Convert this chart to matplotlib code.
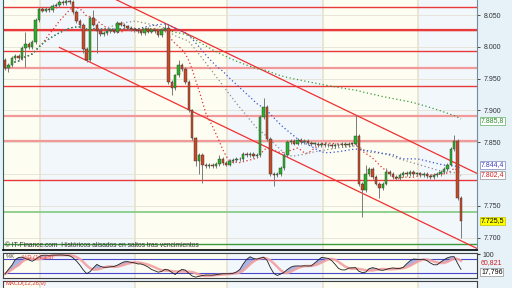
import numpy as np
import pandas as pd
import matplotlib
matplotlib.use('Agg')
import matplotlib.pyplot as plt

plt.rcParams['font.family'] = ['Liberation Sans', 'DejaVu Sans']

# closes of each bar
closes = [7.966, 7.972, 7.982, 7.985, 7.983, 7.998, 8.005, 8.000, 8.008, 8.042,
          8.060, 8.057, 8.060, 8.058, 8.064, 8.066, 8.070, 8.069, 8.072, 8.071,
          8.055, 8.040, 8.035, 7.997, 7.980, 8.045, 8.035, 8.025, 8.020, 8.022,
          8.025, 8.026, 8.024, 8.038, 8.035, 8.032, 8.030, 8.028, 8.027, 8.025,
          8.022, 8.028, 8.024, 8.026, 8.025, 8.019, 8.026, 8.030, 7.945, 7.935,
          7.955, 7.972, 7.965, 7.945, 7.900, 7.856, 7.820, 7.830, 7.815, 7.812,
          7.815, 7.812, 7.816, 7.824, 7.818, 7.815, 7.820, 7.822, 7.824, 7.823,
          7.832, 7.830, 7.831, 7.828, 7.830, 7.890, 7.905, 7.855, 7.800, 7.798,
          7.800, 7.810, 7.830, 7.850, 7.852, 7.848, 7.853, 7.850, 7.852, 7.849,
          7.847, 7.848, 7.846, 7.848, 7.845, 7.846, 7.844, 7.846, 7.845, 7.847,
          7.846, 7.848, 7.847, 7.860, 7.784, 7.775, 7.800, 7.808, 7.795, 7.785,
          7.778, 7.785, 7.803, 7.800, 7.795, 7.793, 7.798, 7.802, 7.800, 7.803,
          7.800, 7.801, 7.799, 7.800, 7.797, 7.795, 7.799, 7.800, 7.803, 7.808,
          7.815, 7.840, 7.852, 7.762, 7.7255]
first_open = 7.979
# longer wicks that stand out
wick_high = {6: 8.023, 18: 8.080, 26: 8.058, 47: 8.037, 48: 8.034, 51: 7.980,
             63: 7.830, 76: 7.920, 103: 7.893, 106: 7.814, 112: 7.810, 132: 7.861}
wick_low = {1: 7.960, 6: 7.968, 22: 8.029, 23: 7.990, 24: 7.976, 27: 7.990,
            49: 7.924, 56: 7.812, 57: 7.800, 58: 7.786, 79: 7.781, 105: 7.732,
            110: 7.762, 134: 7.699}

red_levels = [8.0626, 8.0264, 7.9934, 7.9384, 7.791]
pink_levels = [7.9667, 7.891, 7.852]
green_levels = [7.740, 7.690]
# regression channel (bar, upper, lower)
chan_bars = [16, 138.7]
chan_upper = [8.117, 7.801]
chan_lower = [7.999, 7.683]
ma_windows = [12, 30, 40, 120]
ma_colors = ['#e03030', '#8c8c8c', '#3a55d0', '#3a9a3a']
price_ticks = [7.70, 7.75, 7.85, 7.90, 7.95, 8.00, 8.05]
day_breaks = [10.3, 38.2, 65.2, 93.4, 121.4]

c = np.array(closes)
o = np.concatenate([[first_open], c[:-1]])
n = len(c)
x = np.arange(n)
hi = np.maximum(o, c) + 0.003
lo = np.minimum(o, c) - 0.003
for k, v in wick_high.items():
    hi[k] = v
for k, v in wick_low.items():
    lo[k] = v

s = pd.Series(c)
# stochastic 14,3,5
ll = pd.Series(lo).rolling(14, min_periods=1).min()
hh = pd.Series(hi).rolling(14, min_periods=1).max()
rawk = 100 * (s - ll) / (hh - ll)
stk = rawk.rolling(3, min_periods=1).mean()
std = stk.rolling(5, min_periods=1).mean()
# macd
macd = s.ewm(span=12).mean() - s.ewm(span=26).mean()

W, H = 512, 288
def box(x0, y0, x1, y1):
    return [x0 / W, 1 - y1 / H, (x1 - x0) / W, (y1 - y0) / H]

fig = plt.figure(figsize=(5.12, 2.88), dpi=100, facecolor='#e6f1f8')
ax = fig.add_axes(box(3, 0, 477, 250))
ax_st = fig.add_axes(box(3, 253, 477, 278))
ax_md = fig.add_axes(box(3, 281, 477, 300))

xl = (-0.59, 138.7)
for a in (ax, ax_st, ax_md):
    a.set_facecolor('#fdfdf1')
    bands = [xl[0]] + day_breaks + [xl[1]]
    for i in range(len(bands) - 1):
        if i % 2 == 1:
            a.axvspan(bands[i], bands[i + 1], color='#f2f7fc', lw=0, zorder=0)
    for b in day_breaks:
        a.axvline(b, color='#e6e2cf', lw=1.2, zorder=0.5)
    a.set_xlim(*xl)
    a.set_xticks([])
    for sp in a.spines.values():
        sp.set_color('#404040')
        sp.set_linewidth(0.8)

# main panel
ax.set_ylim(7.6806, 8.0736)
for t in np.arange(7.70, 8.06, 0.05):
    ax.axhline(t, color='#e4e2d4', lw=0.6, zorder=0.6)
for lv in red_levels:
    ax.axhline(lv, color='#e83a3a', lw=1.0, zorder=1)
ax.axhline(red_levels[1], color='#e83a3a', lw=1.6, zorder=1)
for lv in pink_levels:
    ax.axhline(lv, color='#f29a9a', lw=1.6, zorder=1)
ax.axhline(green_levels[0], color='#88cc88', lw=1.3, zorder=1)
ax.axhline(green_levels[1], color='#3a9a3a', lw=1.0, zorder=1)

ax.plot(chan_bars, chan_upper, color='#f03030', lw=0.9, zorder=2)
ax.plot(chan_bars, chan_lower, color='#f03030', lw=0.9, zorder=2)

for w, col in zip(ma_windows, ma_colors):
    ma = s.rolling(w, min_periods=1).mean()
    ax.plot(x, ma, color=col, lw=0.9, ls=(0, (1, 2)), zorder=2.5)

up = c >= o
ax.vlines(x, lo, hi, color='#7a7a7a', lw=0.7, zorder=3)
ax.bar(x, np.maximum(np.abs(c - o), 0.0012), bottom=np.minimum(o, c), width=0.72,
       color=np.where(up, '#28b428', '#c84a28'), edgecolor='#303030', lw=0.3, zorder=4)

ax.yaxis.tick_right()
ax.set_yticks(price_ticks)
ax.set_yticklabels(['%.3f' % t for t in price_ticks])
ax.tick_params(axis='y', labelsize=5, length=2.5, width=0.6, pad=2, colors='#333333')
ax.spines['top'].set_visible(False)
ax.spines['left'].set_color('#2f5f5f')
ax.spines['right'].set_color('#7090a0')
ax.spines['bottom'].set_color('#000000')
ax.spines['bottom'].set_linewidth(1.2)
ax.text(0.004, 0.012, '\u00a9 IT-Finance.com  Hist\u00f3ricos alisados en saltos tras vencimientos',
        transform=ax.transAxes, fontsize=4.8, color='#333333', zorder=6)

# value labels on the right
def side_label(ypx, txt, fg, bg, ec):
    fig.text(481 / W, 1 - ypx / H, txt, fontsize=5, color=fg, va='center', ha='left',
             bbox=dict(boxstyle='square,pad=0.12', fc=bg, ec=ec, lw=0.5))
side_label(121, '7.885,8', '#2a8a2a', '#ffffff', '#60b060')
side_label(165, '7.844,4', '#4040c0', '#ffffff', '#8080c0')
side_label(175, '7.802,4', '#d02020', '#ffffff', '#909090')
side_label(221, '7.725,5', '#000000', '#ffff00', '#c0c000')

# stochastic panel
ax_st.set_ylim(-1.3, 105.6)
ax_st.axhline(80, color='#4848c8', lw=0.8)
ax_st.axhline(20, color='#4848c8', lw=0.8)
ax_st.fill_between(x, stk, std, where=stk >= std, color='#a8b4e4', lw=0, interpolate=True)
ax_st.plot(x, std, color='#f2a0a0', lw=1.8, alpha=0.9)
ax_st.plot(x, stk, color='#202020', lw=0.6)
ax_st.yaxis.tick_right()
ax_st.set_yticks([100])
ax_st.set_yticklabels(['100'])
ax_st.tick_params(axis='y', labelsize=5, length=2, pad=2, colors='#333333')
ax_st.text(0.006, 0.78, '%K', transform=ax_st.transAxes, fontsize=4.2, color='#404040')
ax_st.text(0.04, 0.78, '%D (14,3,5)', transform=ax_st.transAxes, fontsize=4.2, color='#e03030')
fig.text(481 / W, 1 - 263 / H, '60,821', fontsize=5, color='#d02020', va='center')
fig.text(481 / W, 1 - 272 / H, '17,796', fontsize=5, color='#000000', va='center',
         bbox=dict(boxstyle='square,pad=0.12', fc='#ffffff', ec='#909090', lw=0.5))

# macd panel (mostly cut off)
m = float(np.abs(macd).max())
ax_md.set_ylim(-m * 1.1, m * 1.1)
ax_md.fill_between(x, 0, macd, color='#a8dca8', lw=0)
ax_md.plot(x, macd, color='#3a8a3a', lw=0.5)
ax_md.set_yticks([])
ax_md.text(0.006, 0.78, 'MACD(12,26,9)', transform=ax_md.transAxes, fontsize=4.2, color='#e03030')

fig.savefig('out.png', dpi=100, facecolor=fig.get_facecolor())
